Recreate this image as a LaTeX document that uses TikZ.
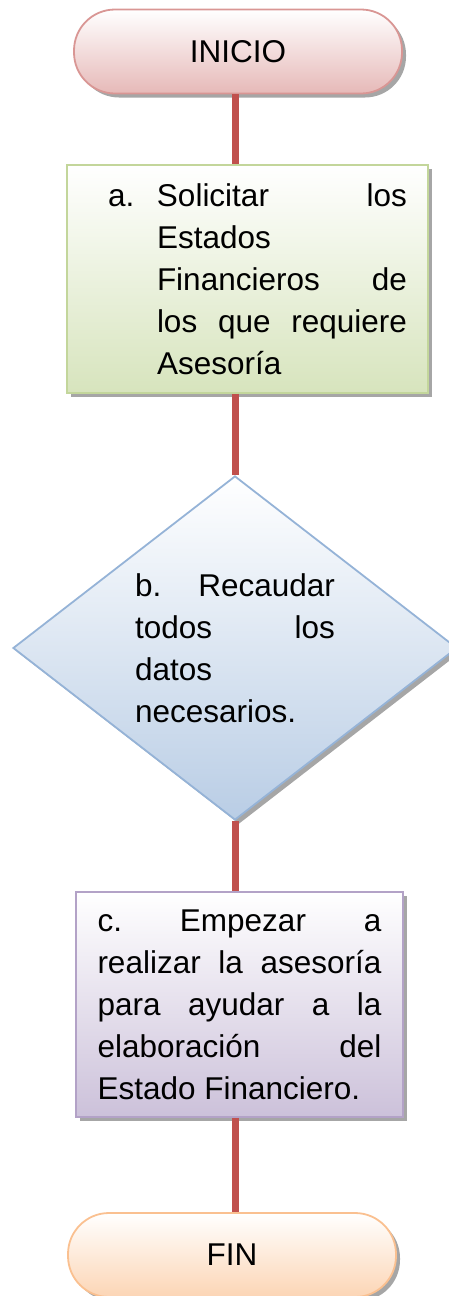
\documentclass[tikz,border=0pt]{standalone}
\usepackage{fontspec}
\setmainfont{Liberation Sans}
\usetikzlibrary{shapes.geometric,positioning,shadows}

\definecolor{linkred}{HTML}{C0504D}
\definecolor{redln}{HTML}{D99694}   \definecolor{redfl}{HTML}{E6B9B8}
\definecolor{greenln}{HTML}{C3D69B} \definecolor{greenfl}{HTML}{D7E4BD}
\definecolor{blueln}{HTML}{95B3D7}  \definecolor{bluefl}{HTML}{B9CDE5}
\definecolor{purpln}{HTML}{B3A2C7}  \definecolor{purpfl}{HTML}{CCC1DA}
\definecolor{orgln}{HTML}{FAC090}   \definecolor{orgfl}{HTML}{FCD5B5}

\tikzset{
  box/.style={line width=1.8pt,inner sep=0pt,top color=white,
    drop shadow={shadow xshift=4pt,shadow yshift=-4pt,fill=black,opacity=.35}},
  term/.style={box,rectangle,rounded corners=41pt,minimum width=328pt,minimum height=84pt},
  proc/.style={box,rectangle},
  dec/.style={box,diamond,shape aspect=1.29,minimum width=444pt,minimum height=344pt},
  link/.style={line width=7pt,linkred}
}

\begin{document}
\begin{tikzpicture}[x=1pt,y=1pt,on grid,font=\fontsize{31.5}{42}\selectfont]
    \useasboundingbox (0,0) rectangle (449,-1296);
    \node[term,draw=redln,bottom color=redfl]     (ini) at (238,-51.5) {INICIO};
    \node[proc,draw=greenln,bottom color=greenfl,minimum width=361pt,minimum height=228pt]
          (a) [below=227.5pt of ini,xshift=9.5pt]
          {\hspace*{20pt}\makebox[49pt][l]{a.}\parbox[t]{250pt}{Solicitar\hfill los\\Estados\\Financieros\hfill de\\los\hfill que\hfill requiere\\Asesoría}};
    \node[dec,draw=blueln,bottom color=bluefl]    (b)   [below=369pt of a,xshift=-12.5pt]
          {\parbox[t]{200pt}{b.\hfill Recaudar\\todos\hfill los\\datos\\necesarios.}};
    \node[proc,draw=purpln,bottom color=purpfl,minimum width=327pt,minimum height=225pt]
          (c) [below=356.5pt of b,xshift=4.5pt]
          {\parbox[t]{284pt}{c.\hfill Empezar\hfill a\\realizar\hfill la\hfill asesoría\\para\hfill ayudar\hfill a\hfill la\\elaboración\hfill del\\Estado Financiero.}};
    \node[term,draw=orgln,bottom color=orgfl]     (fin) [below=250.5pt of c,xshift=-7.5pt] {FIN};

    \draw[link] (ini.south -| b) -- (a.north -| b);
    \draw[link] (a.south -| b) -- (b.north);
    \draw[link] (b.south) -- (c.north -| b);
    \draw[link] (c.south -| b) -- (fin.north -| b);
\end{tikzpicture}
\end{document}
